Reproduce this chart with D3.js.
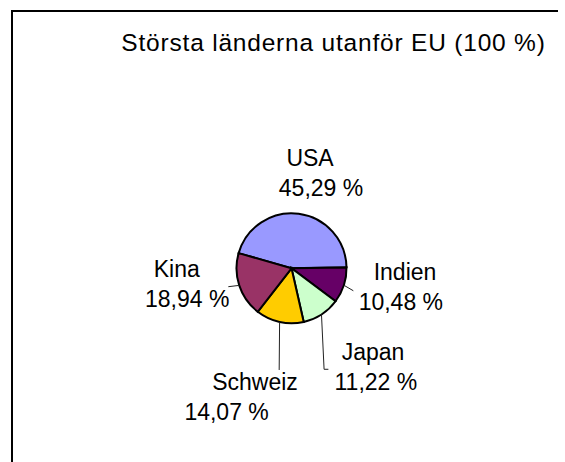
<!DOCTYPE html>
<html lang="sv">
    <head>
        <meta charset="utf-8">
        <title>Största länderna utanför EU</title>
        <script src="https://d3js.org/d3.v7.min.js"></script>
        <style>
          body{
            margin: 0;
            background: #fff;
          }
          text{
            font-family: "Liberation Sans", Arial, sans-serif;
            fill: #000;
          }
          .slice{
            stroke: #000;
            stroke-width: 2;
          }
          .leader{
            fill: none;
            stroke: #222;
            stroke-width: 1;
          }
        </style>
    </head>
    <body>
        <script type="text/javascript">
            // data
            var title = "Största länderna utanför EU (100 %)";
            var countries = ["USA", "Indien", "Japan", "Schweiz", "Kina"];
            var shares = [45.29, 10.48, 11.22, 14.07, 18.94];
            var colors = ["#9999FF", "#660066", "#CCFFCC", "#FFCC00", "#993366"];

            // label layout (angle in degrees from 12 o'clock, distance from centre,
            // horizontal shift between the two lines, leader end relative to label)
            var labelLayout = [
              {angle: 15.3,  dist: 91,    shift: 5.5,   leader: null},
              {angle: 103.5, dist: 114.6, shift: -2.1,  leader: [-49.6, -4.3]},
              {angle: 142.2, dist: 135.4, shift: 1.4,   leader: [-46.1, -6], elbow: true},
              {angle: 200.4, dist: 145.5, shift: -14.2, leader: [38.4, -34.7]},
              {angle: 257.8, dist: 112.1, shift: 5.2,   leader: [46.4, -5.3]}
            ];

            var w = 565, h = 462;
            var cx = 291.5, cy = 268.3, radius = 55;
            var rad = Math.PI / 180;

            var svg = d3.select("body")
                        .append("svg")
                        .attr("width", w)
                        .attr("height", h);

            // frame (only top and left edges show in the picture)
            svg.append("path")
               .attr("d", "M558,11H12V" + h)
               .attr("fill", "none")
               .attr("stroke", "#000")
               .attr("stroke-width", 2);

            svg.append("text")
               .attr("x", 333.5)
               .attr("y", 51)
               .attr("text-anchor", "middle")
               .style("font-size", "24.5px")
               .style("letter-spacing", "0.8px")
               .text(title);

            var pie = d3.pie()
                        .sort(null)
                        .startAngle(-74 * rad)
                        .endAngle(-74 * rad + 2 * Math.PI);

            var arcs = pie(shares);

            var arc = d3.arc()
                        .innerRadius(0)
                        .outerRadius(radius);

            var g = svg.append("g")
                       .attr("transform", "translate(" + cx + "," + cy + ")");

            g.selectAll(".slice")
             .data(arcs)
             .enter()
             .append("path")
             .attr("class", "slice")
             .attr("fill", function(d, i){ return colors[i]; })
             .attr("d", arc);

            function polar(a, r){
                return [Math.sin(a) * r, -Math.cos(a) * r];
            }

            var fmt = function(v){ return d3.format(".2f")(v).replace(".", ",") + " %"; };

            // leader lines
            arcs.forEach(function(d, i){
                var lay = labelLayout[i];
                if(!lay.leader) return;
                var mid = (d.startAngle + d.endAngle) / 2;
                var p0 = polar(mid, radius);
                var anchor = polar(lay.angle * rad, lay.dist);
                var end = [anchor[0] + lay.leader[0], anchor[1] + lay.leader[1]];
                var path = d3.path();
                path.moveTo(p0[0], p0[1]);
                if(lay.elbow) path.lineTo(end[0] - 4.3, end[1]);
                path.lineTo(end[0], end[1]);
                g.append("path")
                 .attr("class", "leader")
                 .attr("d", path.toString());
            });

            // labels
            var labels = g.selectAll(".label")
                          .data(arcs)
                          .enter()
                          .append("text")
                          .attr("class", "label")
                          .attr("text-anchor", "middle")
                          .style("font-size", "23px");

            labels.each(function(d, i){
                var lay = labelLayout[i];
                var p = polar(lay.angle * rad, lay.dist);
                var t = d3.select(this);
                t.append("tspan")
                 .attr("x", p[0] - lay.shift)
                 .attr("y", p[1] - 14.8)
                 .text(countries[i]);
                t.append("tspan")
                 .attr("x", p[0] + lay.shift)
                 .attr("y", p[1] + 15)
                 .text(fmt(d.data));
            });
        </script>
    </body>
</html>
